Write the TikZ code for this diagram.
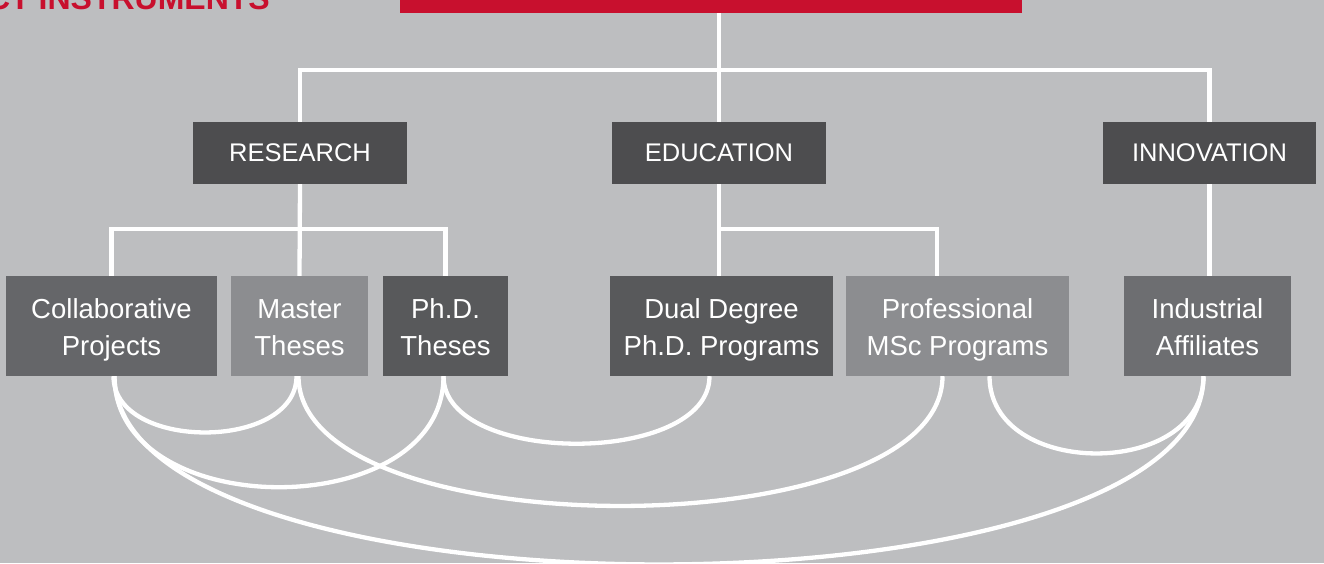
\documentclass[tikz,border=0pt]{standalone}
\usepackage{fontspec}
\setmainfont{Liberation Sans}
\usetikzlibrary{calc}

\definecolor{bggray}{HTML}{BDBEC0}
\definecolor{tred}{HTML}{C8102E}
\definecolor{boxdark}{HTML}{4D4D4F}
\definecolor{boxdeep}{HTML}{58595B}
\definecolor{boxmid}{HTML}{656669}
\definecolor{boxmidb}{HTML}{6D6E71}
\definecolor{boxlight}{HTML}{8C8D90}
% same line height for every text line in the boxes
\newcommand{\lstrut}{\rule[-6pt]{0pt}{33pt}}

\begin{document}
\begin{tikzpicture}[x=1pt,y=-1pt,
    branch/.style={fill=boxdark,text=white,minimum height=62pt,inner sep=0pt,
      font=\fontsize{25.5}{30}\selectfont},
    leaf/.style={text=white,minimum height=100pt,inner sep=0pt,align=center,
      font=\fontsize{27.5}{37}\selectfont},
    link/.style={white,line width=4.3pt}]
    \useasboundingbox (0,0) rectangle (1324,563);
    \clip (0,0) rectangle (1324,563);
    % the gray background
    \fill[bggray] (0,0) rectangle (1324,563);

    % the red bar and the title, both cut by the top edge
    \node[fill=tred,minimum width=622pt,minimum height=53pt,inner sep=0pt,
      anchor=south] (top) at (711,13) {};
    \node[anchor=base west,inner sep=0pt,text=tred,
      font=\bfseries\fontsize{32}{38}\selectfont] (title) at (-13,9) {CT INSTRUMENTS};

    % the three branches
    \node[branch,minimum width=214pt] (res) at (300,153) {RESEARCH};
    \node[branch,minimum width=214pt] (edu) at (719,153) {EDUCATION};
    \node[branch,minimum width=213pt] (inn) at (1209.5,153) {INNOVATION};

    % the instruments under them
    \node[leaf,fill=boxmid,minimum width=211pt] (collab) at (111.5,326)
    {\lstrut Collaborative\\\lstrut Projects};
    \node[leaf,fill=boxlight,minimum width=137pt] (master) at (299.5,326)
    {\lstrut Master\\\lstrut Theses};
    \node[leaf,fill=boxdeep,minimum width=125pt] (phd) at (445.5,326)
    {\lstrut Ph.D.\\\lstrut Theses};
    \node[leaf,fill=boxdeep,minimum width=223pt] (dual) at (721.5,326)
    {\lstrut Dual Degree\\\lstrut Ph.D. Programs};
    \node[leaf,fill=boxlight,minimum width=223pt] (prof) at (957.5,326)
    {\lstrut Professional\\\lstrut MSc Programs};
    \node[leaf,fill=boxmidb,minimum width=167pt] (ind) at (1207.5,326)
    {\lstrut Industrial\\\lstrut Affiliates};

    % the tree lines
    \coordinate (bus) at (719,70);
    \coordinate (rbus) at (300,229);
    \coordinate (ebus) at (719,229);
    \draw[link] (top.south -| edu.north) -- (edu.north);
    \draw[link] (res.north) |- (bus) -| (inn.north);
    \draw[link] (res.south) -- (master.north);
    \draw[link] (collab.north) |- (rbus) -| (phd.north);
    \draw[link] (edu.south) -- (edu.south |- dual.north);
    \draw[link] (ebus) -| ([xshift=-20.5pt]prof.north);
    \draw[link] (inn.south) -- (inn.south |- ind.north);

    % the arcs between the instruments
    \draw[link] ([xshift=2pt]collab.south) .. controls +(0,75) and +(0,75)
    .. ([xshift=-3pt]master.south);
    \draw[link] ([xshift=3pt]collab.south) .. controls +(0,148) and +(0,148)
    .. ([xshift=-2pt]phd.south);
    \draw[link] ([xshift=3pt]collab.south) .. controls +(0,251) and +(0,251)
    .. ([xshift=-4pt]ind.south);
    \draw[link] ([xshift=-1pt]master.south) .. controls +(0,173) and +(0,173)
    .. ([xshift=-15pt]prof.south);
    \draw[link] ([xshift=-2pt]phd.south) .. controls +(0,90) and +(0,90)
    .. ([xshift=-12pt]dual.south);
    \draw[link] ([xshift=32pt]prof.south) .. controls +(0,103) and +(0,103)
    .. ([xshift=-4pt]ind.south);
\end{tikzpicture}
\end{document}
